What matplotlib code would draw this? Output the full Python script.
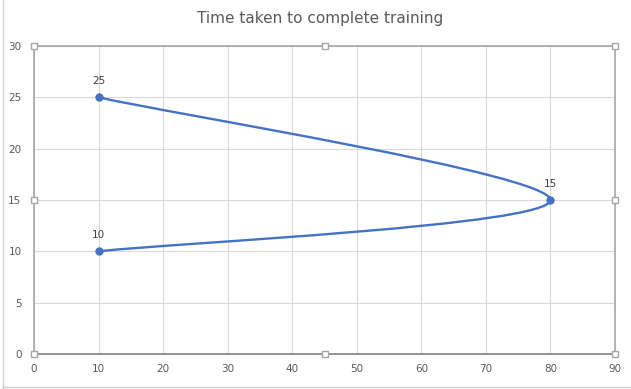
import matplotlib.pyplot as plt
from matplotlib.path import Path
from matplotlib.patches import PathPatch
from matplotlib.lines import Line2D

# data
x_vals = [10, 80, 10]
y_vals = [25, 15, 10]
labels = ["25", "15", "10"]
x_ticks = [0, 10, 20, 30, 40, 50, 60, 70, 80, 90]
y_ticks = [0, 5, 10, 15, 20, 25, 30]
title = "Time taken to complete training"

blue = "#4472C4"
text_grey = "#595959"

fig = plt.figure(figsize=(6.31, 3.89), dpi=100)
ax = fig.add_axes([34 / 631, 1 - 354 / 389, 581 / 631, 308 / 389])

# smoothed line (Excel style bezier through the points)
pts = list(zip(x_vals, y_vals))
verts = [pts[0]]
codes = [Path.MOVETO]
n = len(pts)
for i in range(n - 1):
    p0 = pts[i - 1] if i > 0 else pts[i]
    p1 = pts[i]
    p2 = pts[i + 1]
    p3 = pts[i + 2] if i + 2 < n else pts[i + 1]
    c1 = (p1[0] + (p2[0] - p0[0]) / 6, p1[1] + (p2[1] - p0[1]) / 6)
    c2 = (p2[0] - (p3[0] - p1[0]) / 6, p2[1] - (p3[1] - p1[1]) / 6)
    verts += [c1, c2, p2]
    codes += [Path.CURVE4] * 3
ax.add_patch(PathPatch(Path(verts, codes), facecolor="none", edgecolor=blue,
                       lw=1.7, capstyle="round", zorder=3))
ax.plot(x_vals, y_vals, "o", color=blue, ms=5, zorder=4)
for x, y, s in zip(x_vals, y_vals, labels):
    ax.annotate(s, (x, y), xytext=(0, 8), textcoords="offset points",
                ha="center", va="bottom", fontsize=7.5, color="#404040")

ax.set_xlim(0, 90)
ax.set_ylim(0, 30)
ax.set_xticks(x_ticks)
ax.set_yticks(y_ticks)
ax.grid(True, color="#D9D9D9", lw=0.8)
ax.set_axisbelow(True)
ax.tick_params(length=0, labelsize=7.5, colors=text_grey)
ax.tick_params(axis="x", pad=7)
ax.tick_params(axis="y", pad=9)
for side in ["top", "right", "left"]:
    ax.spines[side].set_color("#A6A6A6")
    ax.spines[side].set_linewidth(1.2)
ax.spines["bottom"].set_color("#7F7F7F")
ax.spines["bottom"].set_linewidth(1.2)

fig.text(0.507, 1 - 18 / 389, title, ha="center", va="center",
         fontsize=11, color=text_grey)

# selection handles on plot area
for hx, hy in [(0, 0), (45, 0), (90, 0), (0, 15), (90, 15), (0, 30), (45, 30), (90, 30)]:
    ax.plot(hx, hy, "s", ms=5, mfc="white", mec="#A6A6A6", mew=1,
            clip_on=False, zorder=5)

# outer chart frame bits
fig.add_artist(Line2D([3 / 631, 3 / 631], [1 / 389, 1], color="#D0D0D0", lw=1))
fig.add_artist(Line2D([3 / 631, 1], [2 / 389, 2 / 389], color="#D0D0D0", lw=1))

fig.savefig("out.png", dpi=100)
